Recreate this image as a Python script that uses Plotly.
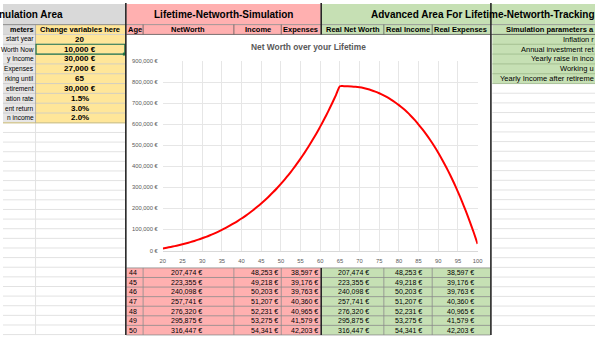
import plotly.graph_objects as go

# ---------------- data ----------------
ages = list(range(20, 101))
net_worth = [
    10000, 13300, 16894, 20797, 25024, 29591, 34514, 39811, 45500, 51600,
    58130, 65109, 72558, 80500, 88957, 97953, 107512, 117659, 128420, 139822,
    151893, 164663, 178162, 192422, 207474, 223355, 240098, 257741, 276320, 295875,
    316447, 338078, 360812, 384694, 409771, 436092, 463707, 492668, 523030, 554848,
    588181, 623089, 659635, 697883, 737900, 779756, 780386, 780244, 779293, 777499,
    774823, 771227, 766671, 761112, 754508, 746814, 737984, 727972, 716726, 704197,
    690332, 675076, 658372, 640163, 620389, 597987, 574863, 549979, 523266, 494654,
    464069, 431435, 396673, 359703, 320441, 278800, 234691, 188022, 138697, 86618,
    31683,
]
x_ticks = [20, 25, 30, 35, 40, 45, 50, 55, 60, 65, 70, 75, 80, 85, 90, 95, 100]
y_ticks = [0, 100000, 200000, 300000, 400000, 500000, 600000, 700000, 800000, 900000]

# parameter column (the sheet is scrolled, so only the right part of each label shows)
param_labels = ["start year", "Worth Now", "y Income", "Expenses", "rking until",
                "etirement", "ation rate", "ent return", "n income"]
param_values = ["20", "10,000 €", "30,000 €", "27,000 €", "65", "30,000 €",
                "1.5%", "3.0%", "2.0%"]

# right-hand parameter block (cut by the window edge)
adv_labels = ["Inflation r", "Annual investment ret", "Yearly raise in inco",
              "Working u", "Yearly Income after retireme"]

table_age = [44, 45, 46, 47, 48, 49, 50]
table_networth = [207474, 223355, 240098, 257741, 276320, 295875, 316447]
table_income = [48253, 49218, 50203, 51207, 52231, 53275, 54341]
table_expenses = [38597, 39176, 39763, 40360, 40965, 41579, 42203]
real_networth = [207474, 223355, 240098, 257741, 276320, 295875, 316447]
real_income = [48253, 49218, 50203, 51207, 52231, 53275, 54341]
real_expenses = [38597, 39176, 39763, 40360, 40965, 41579, 42203]

# ---------------- helpers (pixel -> paper) ----------------
W, H = 600, 338
FONT = "Liberation Sans"
shapes, notes = [], []


def X(px):
    return px / W


def Y(py):
    return 1 - py / H


def rect(x0, y0, x1, y1, fill, lc=None, lw=0):
    shapes.append(dict(type="rect", xref="paper", yref="paper",
                       x0=X(x0), x1=X(x1), y0=Y(y1), y1=Y(y0),
                       fillcolor=fill, line=dict(color=lc or fill, width=lw),
                       layer="below"))


def line(x0, y0, x1, y1, color, width=1, layer="below"):
    shapes.append(dict(type="line", xref="paper", yref="paper",
                       x0=X(x0), x1=X(x1), y0=Y(y0), y1=Y(y1),
                       line=dict(color=color, width=width), layer=layer))


def text(x, y, s, size=8, bold=False, anchor="center", color="#000000"):
    notes.append(dict(x=X(x), y=Y(y), xref="paper", yref="paper",
                      text=f"<b>{s}</b>" if bold else s, showarrow=False,
                      xanchor=anchor, yanchor="middle", borderpad=0,
                      font=dict(family=FONT, size=size, color=color)))


def eur(v):
    return f"{v:,} €"


GRAY_T = "#D9D9D9"
GRAY_C = "#E7E6E6"
YELLOW = "#FFE699"
PINK = "#FFB0B0"
GREEN = "#C6E0B4"
GRID = "#E2E2E2"
CELL = "#8C8C8C"
DARK = "#262626"

# ---------------- left: simulation area ----------------
rect(0, 1, 124, 22, GRAY_T)
rect(0, 22, 33, 32, GRAY_T)
rect(33, 22, 124, 32, YELLOW)
rect(0, 32, 33, 122, GRAY_C)
rect(33, 32, 124, 122, YELLOW)

# blank rows below the parameter block
gy = 122
while gy < H:
    line(0, gy, 124, gy, GRID, 1)
    gy += 9.8
line(33, 122, 33, H, GRID, 1)

for i in range(10):
    yy = 22 + i * 10
    line(0, yy, 124, yy, "#C9C9C9" if i else "#A6A6A6", 0.8)
line(0, 122, 124, 122, "#C9B458", 0.8)
line(33, 22, 33, 122, "#A6A6A6", 0.8)

text(62, 12, "nulation Area", 10, True, "right")
text(32, 27, "meters", 7.2, True, "right")
text(78, 27, "Change variables here", 7.5, True)
for i, (lab, val) in enumerate(zip(param_labels, param_values)):
    yc = 37 + i * 10
    text(32.5, yc, lab, 6.6, False, "right")
    text(78, yc, val, 8, True)

# selected cell outline
shapes.append(dict(type="rect", xref="paper", yref="paper",
                   x0=X(33.5), x1=X(123.5), y0=Y(52), y1=Y(42),
                   fillcolor="rgba(0,0,0,0)", line=dict(color="#217346", width=1.2),
                   layer="above"))
rect(121.5, 50.5, 124.5, 53.5, "#217346")

# ---------------- middle: simulation table (pink) ----------------
rect(125, 1, 322, 22, PINK)
rect(125, 22, 322, 32, PINK)
rect(125, 269.7, 322, H, PINK)

# ---------------- advanced area (green) ----------------
rect(323, 1, W, 22, GREEN)
rect(323, 22, 494, 32, GREEN)
rect(323, 269.7, 494, H, GREEN)
rect(496, 22, W, 82, GREEN)

gy = 82
while gy < H:
    line(496, gy, W, gy, GRID, 1)
    gy += 9.85
for i in range(6):
    line(496, 32 + i * 10, W, 32 + i * 10, "#9DB98A", 0.8)

# header / title borders
line(0, 22, W, 22, "#8C8C8C", 0.8)
line(125, 32, W, 32, "#595959", 0.8)
for cx in [142, 234, 282, 386, 435]:
    line(cx, 22, cx, 32, "#595959", 0.8)

text(223, 12, "Lifetime-Networth-Simulation", 10, True)
text(486, 12, "Advanced Area For Lifetime-Networth-Tracking", 10, True)
text(134, 27, "Age", 7.5, True)
text(188, 27, "NetWorth", 7.5, True)
text(258, 27, "Income", 7.5, True)
text(302, 27, "Expenses", 7.5, True)
text(355, 27, "Real Net Worth", 7.5, True)
text(410, 27, "Real Income", 7.5, True)
text(464, 27, "Real Expenses", 7.5, True)
text(509, 27, "Simulation parameters a", 7.5, True, "left")
for i, lab in enumerate(adv_labels):
    text(600, 37 + i * 10, lab, 7.5, False, "right")

# ---------------- chart panel ----------------
rect(125.5, 32.5, 493.5, 269.5, "#FFFFFF")

# ---------------- bottom table rows ----------------
ROW0, PITCH = 269.7, 9.75
for k in range(8):
    yy = ROW0 + k * PITCH
    line(125, yy, 494, yy, CELL, 0.8)
for cx in [142, 234, 282, 386, 435]:
    line(cx, ROW0, cx, H, CELL, 0.8)

for k in range(len(table_age)):
    yc = ROW0 + k * PITCH + PITCH / 2
    text(127, yc, str(table_age[k]), 7, False, "left")
    text(186, yc, eur(table_networth[k]), 7)
    text(280, yc, eur(table_income[k]), 7, False, "right")
    text(320, yc, eur(table_expenses[k]), 7, False, "right")
    text(355, yc, eur(real_networth[k]), 7)
    text(411, yc, eur(real_income[k]), 7)
    text(464, yc, eur(real_expenses[k]), 7)

# thick section separators (the chart panel sits on top of the middle one)
line(124.5, 0, 124.5, H, DARK, 1.6, "above")
line(494.5, 0, 494.5, H, DARK, 1.6, "above")
line(322.5, 0, 322.5, 32, DARK, 1.6, "above")
line(322.5, 269.7, 322.5, H, DARK, 1.6, "above")

# chart title
text(310, 45, "Net Worth over your Lifetime", 8.4, True, color="#595959")

# ---------------- figure ----------------
fig = go.Figure()
fig.add_trace(go.Scatter(x=ages, y=net_worth, mode="lines",
                         line=dict(color="#FF0000", width=2, shape="spline", smoothing=0.6),
                         hoverinfo="skip"))

fig.update_layout(
    width=W, height=H, autosize=False,
    margin=dict(l=0, r=0, t=0, b=0, pad=0),
    paper_bgcolor="#FFFFFF", plot_bgcolor="rgba(0,0,0,0)",
    showlegend=False,
    shapes=shapes, annotations=notes,
    xaxis=dict(domain=[X(162), X(481)], range=[20, 100],
               tickvals=x_ticks, ticktext=[str(t) for t in x_ticks],
               showgrid=True, gridcolor="#E6E6E6", gridwidth=1,
               zeroline=False, showline=True, linecolor="#D9D9D9", linewidth=1,
               ticks="", ticklabelstandoff=5,
               tickfont=dict(family=FONT, size=5.8, color="#595959"),
               fixedrange=True),
    yaxis=dict(domain=[Y(252), Y(59)], range=[0, 900000],
               tickvals=y_ticks, ticktext=[eur(t) if t else "0 €" for t in y_ticks],
               showgrid=True, gridcolor="#E6E6E6", gridwidth=1,
               zeroline=False, showline=False,
               ticks="", ticklabelstandoff=4,
               tickfont=dict(family=FONT, size=5.8, color="#595959"),
               fixedrange=True),
)

fig.write_html("out.html")
